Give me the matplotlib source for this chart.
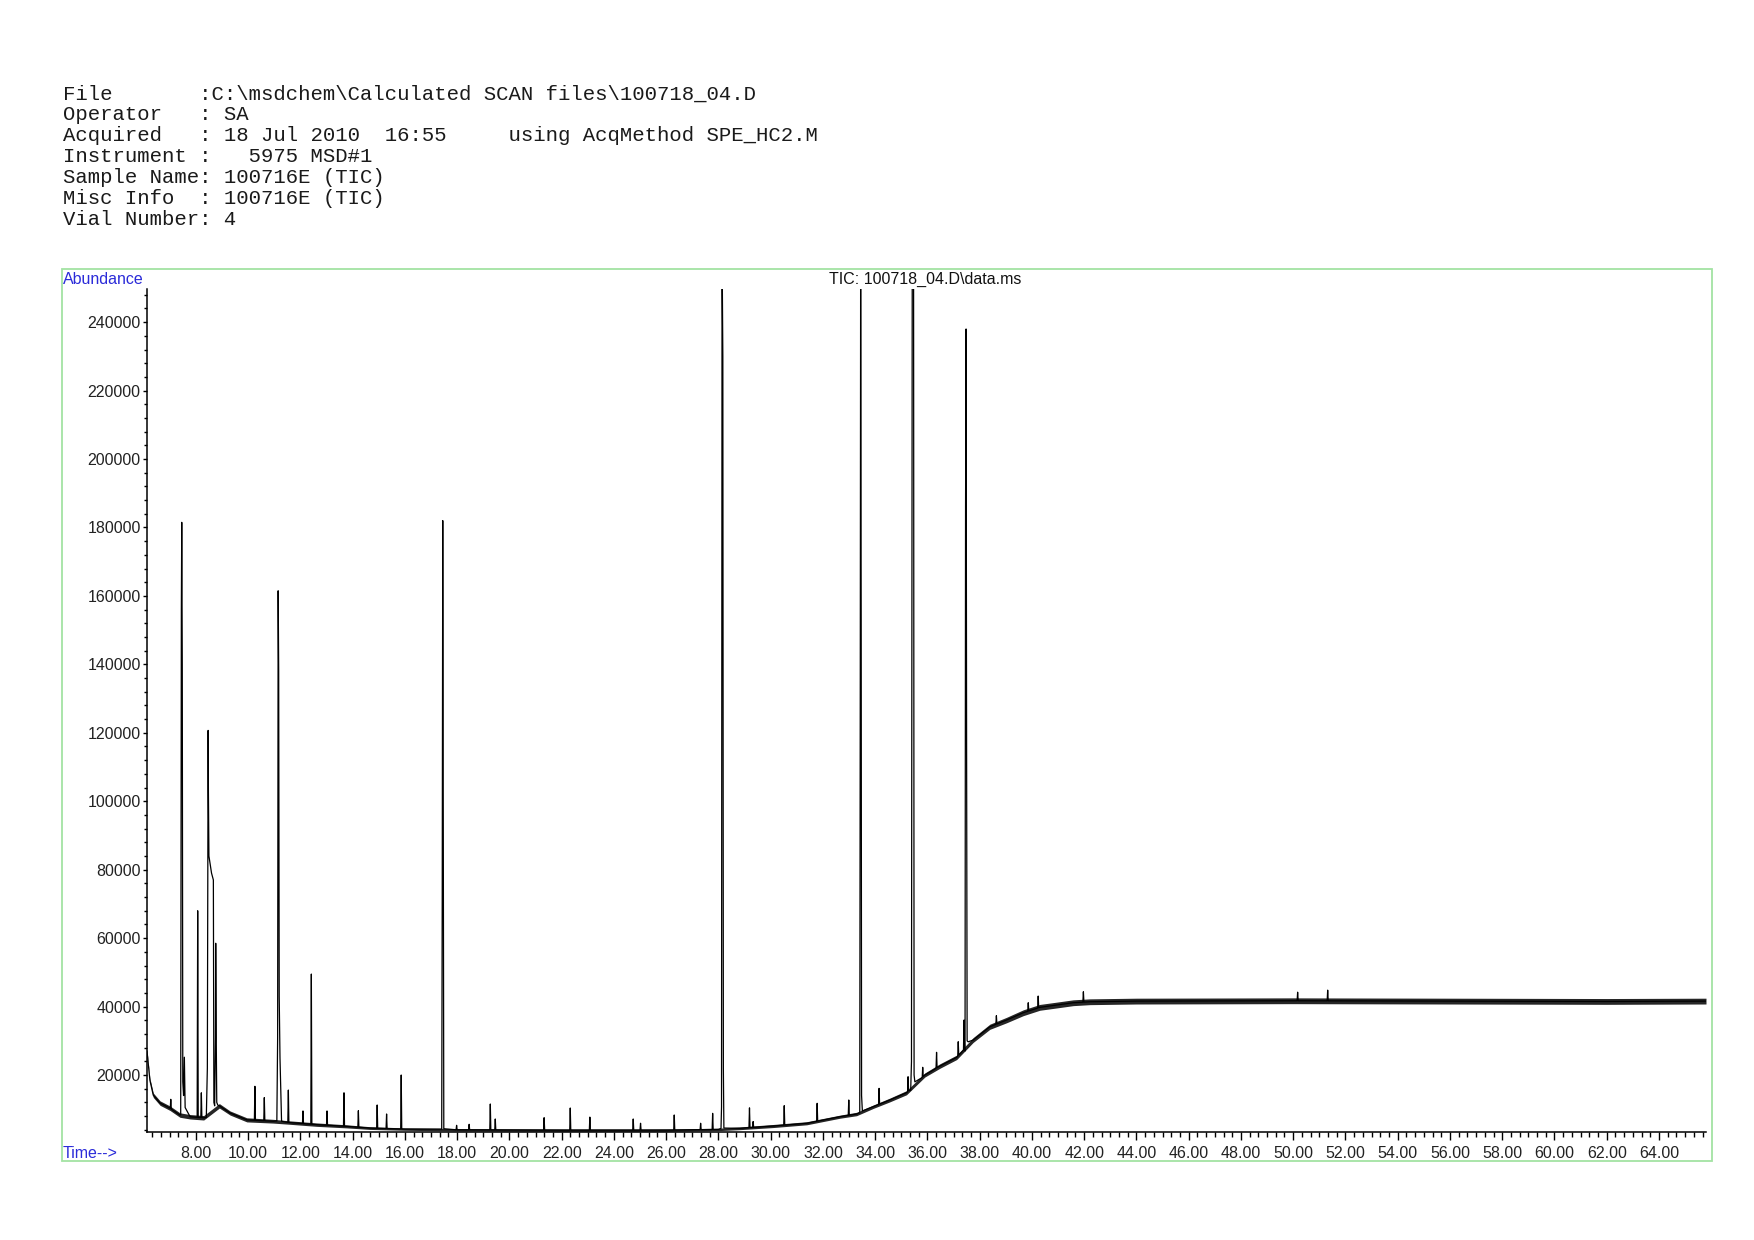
import numpy as np
import matplotlib
matplotlib.use('Agg')
from matplotlib import pyplot as plt
from matplotlib.patches import Rectangle
from matplotlib.ticker import MultipleLocator, AutoMinorLocator, FormatStrFormatter

# header block of the ChemStation report
header_lines = [
    r'File       :C:\msdchem\Calculated SCAN files\100718_04.D',
    'Operator   : SA',
    'Acquired   : 18 Jul 2010  16:55     using AcqMethod SPE_HC2.M',
    'Instrument :   5975 MSD#1',
    'Sample Name: 100716E (TIC)',
    'Misc Info  : 100716E (TIC)',
    'Vial Number: 4',
]
title = r'TIC: 100718_04.D\data.ms'

# baseline of the TIC (time in min, abundance) and its noise half-width
base_t = [6.13, 6.24, 6.37, 6.63, 7.01, 7.39, 7.78, 8.30, 8.90, 9.31, 9.95, 10.96,
          11.60, 12.62, 13.77, 14.66, 16.0, 18.0, 22.0, 26.0, 28.0, 28.82, 30.10,
          31.38, 32.65, 33.29, 33.93, 34.56, 35.20, 35.90, 36.48, 37.12, 37.75,
          38.39, 39.03, 39.67, 40.30, 40.94, 41.58, 42.22, 44.0, 50.0, 56.0, 62.0, 65.8]
base_y = [27000, 18500, 14100, 11800, 10300, 8300, 7800, 7500, 11000, 8900, 6900, 6500,
          6100, 5500, 5000, 4500, 4200, 4000, 3900, 3900, 4100, 4430, 5100,
          5900, 7820, 8610, 10750, 12700, 14830, 20000, 22630, 25170, 30220,
          34100, 36060, 38200, 39770, 40440, 41120, 41410, 41600, 41700, 41600, 41500, 41600]
base_noise = [300, 600, 650, 650, 650, 650, 650, 650, 650, 600, 600, 550,
              500, 500, 450, 400, 350, 350, 350, 350, 350, 400, 450,
              450, 450, 500, 500, 550, 600, 600, 650, 650, 700,
              750, 800, 850, 850, 850, 850, 850, 850, 850, 850, 850, 850]

# simple narrow peaks (apex time, apex abundance)
peak_t = [7.04, 8.07, 8.21, 10.26, 10.62, 11.54, 12.10, 12.42, 13.02, 13.67, 14.22,
          14.94, 15.30, 15.86, 17.98, 18.46, 19.27, 19.46, 21.33, 22.33, 23.08,
          24.74, 25.02, 26.31, 27.32, 27.78, 29.19, 29.33, 30.52, 31.78, 32.99,
          34.15, 35.26, 35.82, 36.35, 37.18, 37.40, 38.64, 39.86, 40.24, 41.97,
          50.17, 51.32]
peak_y = [12900, 68000, 14800, 16700, 13400, 15600, 9500, 49500, 9500, 14800, 9570,
          11240, 8610, 20000, 5300, 5600, 11530, 7150, 7530, 10360, 7700,
          7150, 5900, 8320, 5900, 8800, 10400, 6400, 11040, 11730, 12700,
          16100, 19500, 22250, 26630, 29730, 36060, 37330, 41120, 43070, 44330,
          44200, 44800]

# outlines of the large / overlapping peaks (time, abundance)
cluster_t = [7.42, 7.445, 7.46, 7.48, 7.50, 7.53, 7.56, 7.59,
             8.40, 8.44, 8.47, 8.48, 8.50, 8.60, 8.67, 8.69, 8.72, 8.75, 8.76, 8.78, 8.80, 8.84,
             11.10, 11.13, 11.15, 11.17, 11.19, 11.22, 11.28,
             17.41, 17.43, 17.45, 17.47, 17.49,
             28.10, 28.12, 28.14, 28.17, 28.19, 28.21,
             33.41, 33.43, 33.445, 33.465, 33.48, 33.51,
             35.36, 35.39, 35.42, 35.47, 35.49, 35.52,
             37.44, 37.45, 37.46, 37.48, 37.50, 37.52, 37.56]
cluster_y = [8400, 156000, 181500, 140000, 18000, 14000, 25200, 10500,
             7600, 22000, 120700, 103000, 84000, 79000, 77000, 12000, 11000, 31000, 58500, 31000, 12000, 11200,
             6600, 31000, 161500, 138000, 43000, 25000, 6500,
             4200, 72600, 182000, 101000, 4300,
             4400, 10700, 262000, 230000, 22000, 4500,
             9000, 136000, 262000, 153000, 14000, 9500,
             15500, 23900, 262000, 262000, 20000, 18000,
             27000, 115000, 186000, 238000, 115000, 30000, 29700]

# assemble the trace
hw = 0.02
tr_t = list(base_t) + list(cluster_t)
tr_y = list(base_y) + list(cluster_y)
for t, h in zip(peak_t, peak_y):
    for tt, yy in ((t - hw, None), (t, h), (t + hw, None)):
        tr_t.append(tt)
        tr_y.append(np.interp(tt, base_t, base_y) if yy is None else yy)
order = np.argsort(tr_t, kind='stable')
tr_t = np.array(tr_t)[order]
tr_y = np.array(tr_y)[order]

W, H = 1754, 1240
fig = plt.figure(figsize=(W / 100, H / 100), dpi=100)
sans = 'Liberation Sans'

for i, line in enumerate(header_lines):
    fig.text(62.6 / W, 1 - (99.6 + 20.88 * i) / H, line, family='Liberation Mono',
             fontsize=14.9, color='#1a1a1a', va='baseline', ha='left')

# green frame around the plot
fig.add_artist(Rectangle((62 / W, 1 - 1161 / H), (1712 - 62) / W, (1161 - 269) / H,
                         transform=fig.transFigure, fill=False, ec='#a3e3a3', lw=1.3))

ax = fig.add_axes([147 / W, 1 - 1132 / H, (1706 - 147) / W, (1132 - 288.6) / H])
a = np.array(base_y)
n = np.array(base_noise)
ax.fill_between(base_t, a - n, a + n, color='black', lw=0, alpha=0.85)
ax.plot(tr_t, tr_y, color='black', lw=0.9)

ax.set_xlim(6.13, 65.8)
ax.set_ylim(3350, 249800)
for s in ('top', 'right'):
    ax.spines[s].set_visible(False)
for s in ('left', 'bottom'):
    ax.spines[s].set_linewidth(1.1)

ax.xaxis.set_major_locator(MultipleLocator(2))
ax.xaxis.set_minor_locator(AutoMinorLocator(6))
ax.xaxis.set_major_formatter(FormatStrFormatter('%.2f'))
ax.yaxis.set_major_locator(MultipleLocator(20000))
ax.yaxis.set_minor_locator(AutoMinorLocator(5))
ax.yaxis.set_major_formatter(FormatStrFormatter('%d'))
ax.tick_params(axis='x', which='major', length=6, width=1, pad=4.4, labelsize=11.5, labelcolor='#222222')
ax.tick_params(axis='x', which='minor', length=3.6, width=1)
ax.tick_params(axis='y', which='major', length=3, width=1, pad=1.5, labelsize=11.5, labelcolor='#222222')
ax.tick_params(axis='y', which='minor', length=2, width=1)
for lab in ax.get_xticklabels() + ax.get_yticklabels():
    lab.set_family(sans)

fig.text(63 / W, 1 - 284 / H, 'Abundance', family=sans, fontsize=11.5, color='#2b2bd9', va='baseline')
fig.text(63 / W, 1 - 1158 / H, 'Time-->', family=sans, fontsize=11.5, color='#2b2bd9', va='baseline')
fig.text(925 / W, 1 - 284 / H, title, family=sans, fontsize=11.5, color='#111111', va='baseline', ha='center')

fig.savefig('out.png', dpi=100)
